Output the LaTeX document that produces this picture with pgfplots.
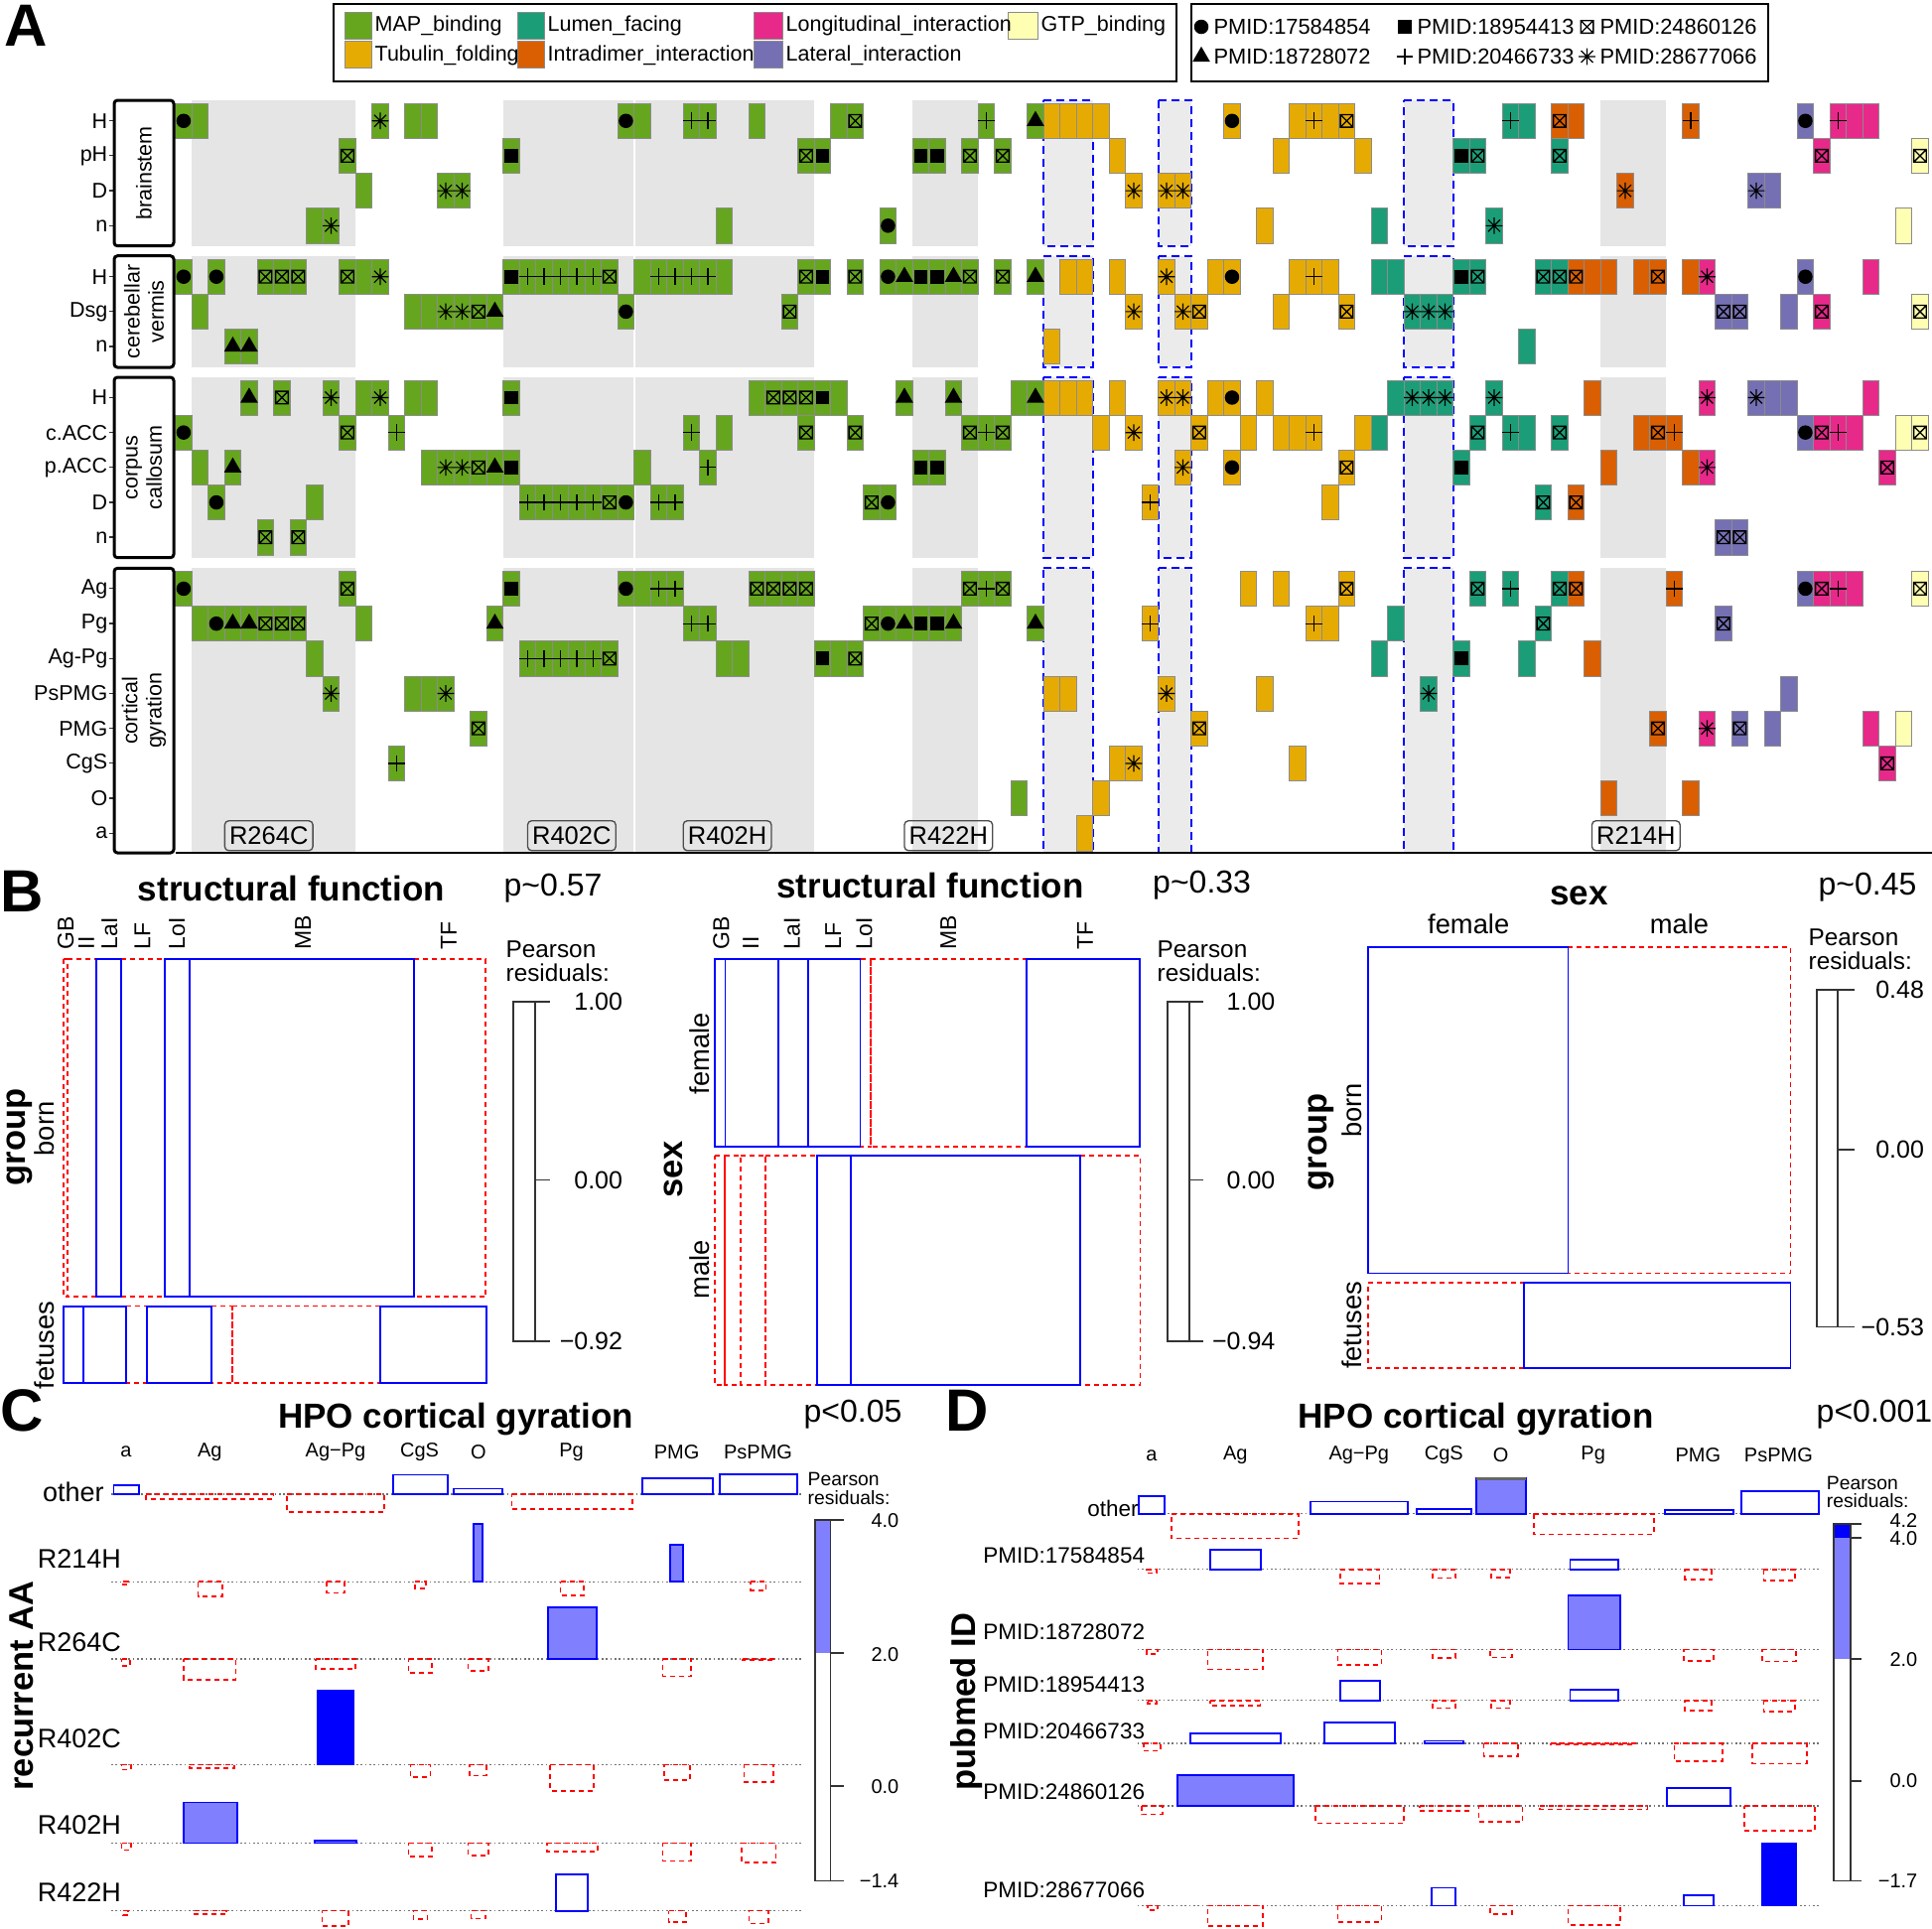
\documentclass[border=0pt]{standalone}
\usepackage{pgfplots}
\pgfplotsset{compat=1.18}
\usepackage{fontspec}
\setmainfont{Liberation Sans}
\definecolor{cMAP}{HTML}{66A61E}
\definecolor{cTUB}{HTML}{E6AB02}
\definecolor{cLUM}{HTML}{1B9E77}
\definecolor{cINT}{HTML}{D95F02}
\definecolor{cLON}{HTML}{E7298A}
\definecolor{cLAT}{HTML}{7570B3}
\definecolor{cGTP}{HTML}{FFFFB3}
\definecolor{gReg}{HTML}{E5E5E5}
\definecolor{gDash}{HTML}{EBEBEB}
\definecolor{shade}{HTML}{8080FF}
\newcommand{\fs}[1]{\fontsize{#1}{#1}\selectfont}
\pgfdeclareplotmark{tile}{\pgfpathrectangle{\pgfqpoint{-2.475pt}{-5.28pt}}{\pgfqpoint{4.95pt}{10.56pt}}\pgfusepathqfillstroke}
\pgfdeclareplotmark{boxx}{\pgfpathrectangle{\pgfqpoint{-1.9pt}{-1.9pt}}{\pgfqpoint{3.8pt}{3.8pt}}%
\pgfpathmoveto{\pgfqpoint{-1.9pt}{-1.9pt}}\pgfpathlineto{\pgfqpoint{1.9pt}{1.9pt}}%
\pgfpathmoveto{\pgfqpoint{-1.9pt}{1.9pt}}\pgfpathlineto{\pgfqpoint{1.9pt}{-1.9pt}}\pgfusepathqstroke}
\pgfdeclareplotmark{ast8}{\pgfpathmoveto{\pgfqpoint{-2.5pt}{0pt}}\pgfpathlineto{\pgfqpoint{2.5pt}{0pt}}%
\pgfpathmoveto{\pgfqpoint{0pt}{-2.5pt}}\pgfpathlineto{\pgfqpoint{0pt}{2.5pt}}%
\pgfpathmoveto{\pgfqpoint{-1.8pt}{-1.8pt}}\pgfpathlineto{\pgfqpoint{1.8pt}{1.8pt}}%
\pgfpathmoveto{\pgfqpoint{-1.8pt}{1.8pt}}\pgfpathlineto{\pgfqpoint{1.8pt}{-1.8pt}}\pgfusepathqstroke}
\pgfdeclareplotmark{plusR}{\pgfpathmoveto{\pgfqpoint{-2.5pt}{0pt}}\pgfpathlineto{\pgfqpoint{2.5pt}{0pt}}%
\pgfpathmoveto{\pgfqpoint{0pt}{-2.5pt}}\pgfpathlineto{\pgfqpoint{0pt}{2.5pt}}\pgfusepathqstroke}
\tikzset{
 tl/.style={only marks, mark=tile, mark options={fill=#1, draw=black!45, line width=0.2pt}},
 mk/.style={only marks, mark options={draw=black, fill=black, line width=0.35pt}},
 posst/.style={draw=blue, line width=0.55pt},
 negst/.style={draw=red, line width=0.5pt, dash pattern=on 1.5pt off 1.2pt},
 pfst/.style={draw=blue, fill=shade, line width=0.55pt},
 pFst/.style={draw=blue, fill=blue, line width=0.55pt},
 base/.style={draw=black!55, line width=0.4pt, dash pattern=on 0.5pt off 0.8pt},
 frm/.style={draw=black!80, line width=0.55pt}
}
\newcommand{\rect}[5]{\addplot[#1] coordinates {(#2,#4) (#3,#4) (#3,#5) (#2,#5)} -- cycle;}
\newcommand{\Pos}[4]{\rect{posst}{#1}{#2}{#3}{#4}}
\newcommand{\Neg}[4]{\rect{negst}{#1}{#2}{#3}{#4}}
\newcommand{\Pf}[4]{\rect{pfst}{#1}{#2}{#3}{#4}}
\newcommand{\PF}[4]{\rect{pFst}{#1}{#2}{#3}{#4}}
\newcommand{\facetbg}[2]{%
 \rect{fill=gReg,draw=none}{0.5}{10.5}{#1}{#2}%
 \rect{fill=gReg,draw=none}{19.5}{27.45}{#1}{#2}%
 \rect{fill=gReg,draw=none}{27.55}{38.5}{#1}{#2}%
 \rect{fill=gReg,draw=none}{44.5}{48.5}{#1}{#2}%
 \rect{fill=gReg,draw=none}{86.5}{90.5}{#1}{#2}%
 \rect{fill=gDash,draw=none}{52.5}{55.5}{#1}{#2}%
 \rect{fill=gDash,draw=none}{59.5}{61.5}{#1}{#2}%
 \rect{fill=gDash,draw=none}{74.5}{77.5}{#1}{#2}}
\newcommand{\facetdash}[2]{%
 \rect{draw=blue,line width=0.55pt,dash pattern=on 2.4pt off 1.5pt}{52.5}{55.5}{#1}{#2}%
 \rect{draw=blue,line width=0.55pt,dash pattern=on 2.4pt off 1.5pt}{59.5}{61.5}{#1}{#2}%
 \rect{draw=blue,line width=0.55pt,dash pattern=on 2.4pt off 1.5pt}{74.5}{77.5}{#1}{#2}}
\begin{document}
\begin{tikzpicture}
\useasboundingbox (0,0) rectangle (583.8pt,-582.9pt);
%================ PANEL A =================
\begin{axis}[at={(53.01pt,-30.3pt)}, anchor=north west, scale only axis,
 width=530.79pt, height=227.4pt, xmin=-0.5, xmax=106.73, ymin=-0.59, ymax=20.95,
 y dir=reverse, axis line style={draw=none}, xtick=\empty,
 ytick={0,1,2,3,4.46,5.46,6.46,7.92,8.92,9.92,10.92,11.92,13.39,14.39,15.39,16.39,17.39,18.39,19.39,20.39},
 yticklabels={H,pH,D,n,H,Dsg,n,H,c.ACC,p.ACC,D,n,Ag,Pg,Ag-Pg,PsPMG,PMG,CgS,O,a},
 major tick length=0pt, yticklabel style={font=\fs{6.45pt}, xshift=-17pt}, clip=false]
\facetbg{-0.59}{3.58}
\facetbg{3.87}{7.06}
\facetbg{7.34}{12.50}
\facetbg{12.80}{20.95}
% MAP binding
\addplot[tl=cMAP] coordinates {(0,0)(1,0)(12,0)(14,0)(15,0)(27,0)(28,0)(31,0)(32,0)(35,0)(40,0)(41,0)(49,0)(52,0)
(10,1)(20,1)(38,1)(39,1)(45,1)(46,1)(48,1)(50,1)
(11,2)(16,2)(17,2)
(8,3)(9,3)(33,3)(43,3)
(0,4.46)(2,4.46)(5,4.46)(6,4.46)(7,4.46)(10,4.46)(11,4.46)(12,4.46)(20,4.46)(21,4.46)(22,4.46)(23,4.46)(24,4.46)(25,4.46)(26,4.46)(28,4.46)(29,4.46)(30,4.46)(31,4.46)(32,4.46)(33,4.46)(38,4.46)(39,4.46)(41,4.46)(43,4.46)(44,4.46)(45,4.46)(46,4.46)(47,4.46)(48,4.46)(50,4.46)(52,4.46)
(1,5.46)(14,5.46)(15,5.46)(16,5.46)(17,5.46)(18,5.46)(19,5.46)(27,5.46)(37,5.46)
(3,6.46)(4,6.46)
(4,7.92)(6,7.92)(9,7.92)(11,7.92)(12,7.92)(14,7.92)(15,7.92)(20,7.92)(35,7.92)(36,7.92)(37,7.92)(38,7.92)(39,7.92)(40,7.92)(44,7.92)(47,7.92)(51,7.92)(52,7.92)
(0,8.92)(10,8.92)(13,8.92)(31,8.92)(33,8.92)(38,8.92)(41,8.92)(48,8.92)(49,8.92)(50,8.92)
(1,9.92)(3,9.92)(15,9.92)(16,9.92)(17,9.92)(18,9.92)(19,9.92)(20,9.92)(28,9.92)(32,9.92)(45,9.92)(46,9.92)
(2,10.92)(8,10.92)(21,10.92)(22,10.92)(23,10.92)(24,10.92)(25,10.92)(26,10.92)(27,10.92)(29,10.92)(30,10.92)(42,10.92)(43,10.92)
(5,11.92)(7,11.92)
(0,13.39)(10,13.39)(20,13.39)(27,13.39)(28,13.39)(29,13.39)(30,13.39)(35,13.39)(36,13.39)(37,13.39)(38,13.39)(48,13.39)(49,13.39)(50,13.39)
(1,14.39)(2,14.39)(3,14.39)(4,14.39)(5,14.39)(6,14.39)(7,14.39)(11,14.39)(19,14.39)(31,14.39)(32,14.39)(42,14.39)(43,14.39)(44,14.39)(45,14.39)(46,14.39)(47,14.39)(52,14.39)
(8,15.39)(21,15.39)(22,15.39)(23,15.39)(24,15.39)(25,15.39)(26,15.39)(33,15.39)(34,15.39)(39,15.39)(40,15.39)(41,15.39)
(9,16.39)(14,16.39)(15,16.39)(16,16.39)
(18,17.39)(13,18.39)(51,19.39)};
% Tubulin folding
\addplot[tl=cTUB] coordinates {(53,0)(54,0)(55,0)(56,0)(64,0)(68,0)(69,0)(70,0)(71,0)
(57,1)(67,1)(72,1)(58,2)(60,2)(61,2)(66,3)
(54,4.46)(55,4.46)(57,4.46)(60,4.46)(63,4.46)(64,4.46)(68,4.46)(69,4.46)(70,4.46)
(58,5.46)(61,5.46)(62,5.46)(67,5.46)(71,5.46)(53,6.46)
(53,7.92)(54,7.92)(55,7.92)(57,7.92)(60,7.92)(61,7.92)(63,7.92)(64,7.92)(66,7.92)
(56,8.92)(58,8.92)(62,8.92)(65,8.92)(67,8.92)(68,8.92)(69,8.92)(72,8.92)
(61,9.92)(64,9.92)(71,9.92)(59,10.92)(70,10.92)
(65,13.39)(67,13.39)(71,13.39)(59,14.39)(69,14.39)(70,14.39)
(53,16.39)(54,16.39)(60,16.39)(66,16.39)(62,17.39)
(57,18.39)(58,18.39)(68,18.39)(56,19.39)(55,20.39)};
% Lumen facing
\addplot[tl=cLUM] coordinates {(81,0)(82,0)(78,1)(79,1)(84,1)(73,3)(80,3)
(73,4.46)(74,4.46)(78,4.46)(79,4.46)(83,4.46)(84,4.46)
(75,5.46)(76,5.46)(77,5.46)(82,6.46)
(74,7.92)(75,7.92)(76,7.92)(77,7.92)(80,7.92)
(73,8.92)(79,8.92)(81,8.92)(82,8.92)(84,8.92)
(78,9.92)(83,10.92)(79,13.39)(81,13.39)(84,13.39)
(74,14.39)(83,14.39)(73,15.39)(78,15.39)(82,15.39)(76,16.39)};
% Intradimer
\addplot[tl=cINT] coordinates {(84,0)(85,0)(92,0)(88,2)
(85,4.46)(86,4.46)(87,4.46)(89,4.46)(90,4.46)(92,4.46)
(86,7.92)(89,8.92)(90,8.92)(91,8.92)(87,9.92)(92,9.92)(85,10.92)
(85,13.39)(91,13.39)(86,15.39)(90,17.39)(87,19.39)(92,19.39)};
% Longitudinal
\addplot[tl=cLON] coordinates {(101,0)(102,0)(103,0)(100,1)(93,4.46)(103,4.46)(100,5.46)(93,7.92)(103,7.92)(100,8.92)(101,8.92)(102,8.92)(93,9.92)(104,9.92)(100,13.39)(101,13.39)(102,13.39)(93,17.39)(103,17.39)(104,18.39)};
% Lateral
\addplot[tl=cLAT] coordinates {(99,0)(96,2)(97,2)(99,4.46)(94,5.46)(95,5.46)(98,5.46)(96,7.92)(97,7.92)(98,7.92)(99,8.92)(94,11.92)(95,11.92)(99,13.39)(94,14.39)(98,16.39)(95,17.39)(97,17.39)};
% GTP binding
\addplot[tl=cGTP] coordinates {(106,1)(105,3)(106,5.46)(105,8.92)(106,8.92)(106,13.39)(105,17.39)};
\facetdash{-0.59}{3.58}
\facetdash{3.87}{7.06}
\facetdash{7.34}{12.50}
\facetdash{12.80}{20.95}
% PMID markers
\addplot[mk, mark=*, mark size=2pt] coordinates {(0,0)(27,0)(64,0)(99,0)(43,3)(0,4.46)(2,4.46)(43,4.46)(64,4.46)(99,4.46)(27,5.46)(64,7.92)(0,8.92)(99,8.92)(64,9.92)(2,10.92)(27,10.92)(43,10.92)(0,13.39)(27,13.39)(99,13.39)(2,14.39)(43,14.39)};
\addplot[mk, mark=triangle*, mark size=2.7pt] coordinates {(52,0)(44,4.46)(47,4.46)(52,4.46)(19,5.46)(3,6.46)(4,6.46)(4,7.92)(44,7.92)(47,7.92)(52,7.92)(3,9.92)(19,9.92)(3,14.39)(4,14.39)(19,14.39)(44,14.39)(47,14.39)(52,14.39)};
\addplot[mk, mark=square*, mark size=1.9pt] coordinates {(20,1)(39,1)(45,1)(46,1)(78,1)(20,4.46)(39,4.46)(45,4.46)(46,4.46)(78,4.46)(20,7.92)(39,7.92)(20,9.92)(45,9.92)(46,9.92)(78,9.92)(20,13.39)(45,14.39)(46,14.39)(39,15.39)(78,15.39)};
\addplot[mk, mark=plusR] coordinates {(31,0)(32,0)(49,0)(69,0)(81,0)(92,0)(101,0)(21,4.46)(22,4.46)(23,4.46)(24,4.46)(25,4.46)(29,4.46)(30,4.46)(31,4.46)(32,4.46)(69,4.46)(13,8.92)(31,8.92)(49,8.92)(69,8.92)(81,8.92)(91,8.92)(101,8.92)(32,9.92)(21,10.92)(22,10.92)(23,10.92)(24,10.92)(25,10.92)(29,10.92)(30,10.92)(59,10.92)(29,13.39)(30,13.39)(49,13.39)(81,13.39)(91,13.39)(101,13.39)(31,14.39)(32,14.39)(59,14.39)(69,14.39)(21,15.39)(22,15.39)(23,15.39)(24,15.39)(25,15.39)(13,18.39)};
\addplot[mk, mark=boxx, mark options={fill=none}] coordinates {(41,0)(71,0)(84,0)(10,1)(38,1)(48,1)(50,1)(79,1)(84,1)(100,1)(106,1)(5,4.46)(6,4.46)(7,4.46)(10,4.46)(26,4.46)(38,4.46)(41,4.46)(48,4.46)(50,4.46)(79,4.46)(83,4.46)(84,4.46)(85,4.46)(90,4.46)(18,5.46)(37,5.46)(62,5.46)(71,5.46)(94,5.46)(95,5.46)(100,5.46)(106,5.46)(6,7.92)(36,7.92)(37,7.92)(38,7.92)(10,8.92)(38,8.92)(41,8.92)(48,8.92)(50,8.92)(62,8.92)(79,8.92)(84,8.92)(90,8.92)(100,8.92)(106,8.92)(18,9.92)(71,9.92)(104,9.92)(26,10.92)(42,10.92)(83,10.92)(85,10.92)(5,11.92)(7,11.92)(94,11.92)(95,11.92)(10,13.39)(35,13.39)(36,13.39)(37,13.39)(38,13.39)(48,13.39)(50,13.39)(71,13.39)(79,13.39)(84,13.39)(85,13.39)(100,13.39)(106,13.39)(5,14.39)(6,14.39)(7,14.39)(42,14.39)(83,14.39)(94,14.39)(26,15.39)(41,15.39)(18,17.39)(62,17.39)(90,17.39)(95,17.39)(104,18.39)};
\addplot[mk, mark=ast8] coordinates {(12,0)(16,2)(17,2)(58,2)(60,2)(61,2)(88,2)(96,2)(9,3)(80,3)(12,4.46)(60,4.46)(93,4.46)(16,5.46)(17,5.46)(58,5.46)(61,5.46)(75,5.46)(76,5.46)(77,5.46)(9,7.92)(12,7.92)(60,7.92)(61,7.92)(75,7.92)(76,7.92)(77,7.92)(80,7.92)(93,7.92)(96,7.92)(58,8.92)(16,9.92)(17,9.92)(61,9.92)(93,9.92)(9,16.39)(16,16.39)(60,16.39)(76,16.39)(93,17.39)(58,18.39)};
% region labels
\tikzset{rl/.style={draw=black!70, rounded corners=1.2pt, line width=0.4pt, inner xsep=1.4pt, inner ysep=0.8pt, minimum height=9pt, font=\fs{7.65pt}}}
\node[rl] at (axis cs:5.2,20.46) {R264C};
\node[rl] at (axis cs:23.69,20.46) {R402C};
\node[rl] at (axis cs:33.19,20.46) {R402H};
\node[rl] at (axis cs:46.69,20.46) {R422H};
\node[rl] at (axis cs:88.66,20.46) {R214H};
\end{axis}
%================ OVERLAY (px coordinates) =================
\begin{axis}[at={(0pt,0pt)}, anchor=north west, scale only axis, width=583.8pt, height=582.9pt,
 xmin=0, xmax=1946, ymin=0, ymax=1943, y dir=reverse, hide axis, clip=false]
% panel A frame items
\draw[line width=0.45pt] (axis cs:176.7,859) -- (axis cs:1946,859);
\pgfplotsinvokeforeach{121.65,156.8,192,227.2,278.6,313.8,349,400.3,435.5,470.7,505.9,541.1,592.8,628,663.2,698.4,733.6,768.8,804,839.2}{\draw[line width=0.4pt,black!80] (axis cs:109.5,#1) -- (axis cs:115,#1);}
\draw[line width=0.9pt, rounded corners=1pt, fill=white] (axis cs:115,101) rectangle (axis cs:175,247.7);
\draw[line width=0.9pt, rounded corners=1pt, fill=white] (axis cs:115,257.7) rectangle (axis cs:175,370);
\draw[line width=0.9pt, rounded corners=1pt, fill=white] (axis cs:115,380) rectangle (axis cs:175,561.7);
\draw[line width=0.9pt, rounded corners=1pt, fill=white] (axis cs:115,572.3) rectangle (axis cs:175,859);
\tikzset{st/.style={rotate=90, align=center, font=\fontsize{6.45pt}{7.3pt}\selectfont}}
\node[st] at (axis cs:145,174.4) {brainstem};
\node[st] at (axis cs:145,313.9) {cerebellar\\vermis};
\node[st] at (axis cs:145,470.9) {corpus\\callosum};
\node[st] at (axis cs:145,715.7) {cortical\\gyration};
% panel letters
\node[font=\fs{18pt}\bfseries] at (axis cs:26,26) {A};
\node[font=\fs{18pt}\bfseries] at (axis cs:22.5,898) {B};
\node[font=\fs{18pt}\bfseries] at (axis cs:22.5,1421) {C};
\node[font=\fs{18pt}\bfseries] at (axis cs:974,1421) {D};
% legend A : colours
\draw[line width=0.5pt] (axis cs:336.3,3.7) rectangle (axis cs:1185,82);
\draw[line width=0.5pt] (axis cs:1200,3.7) rectangle (axis cs:1781,82);
\rect{fill=cMAP,draw=black!45,line width=0.2pt}{347.5}{374.8}{12.4}{39.7}
\rect{fill=cTUB,draw=black!45,line width=0.2pt}{347.5}{374.8}{40.9}{68.2}
\rect{fill=cLUM,draw=black!45,line width=0.2pt}{521}{548.5}{12.4}{39.7}
\rect{fill=cINT,draw=black!45,line width=0.2pt}{521}{548.5}{40.9}{68.2}
\rect{fill=cLON,draw=black!45,line width=0.2pt}{759.5}{788}{12.4}{39.7}
\rect{fill=cLAT,draw=black!45,line width=0.2pt}{759.5}{788}{40.9}{68.2}
\rect{fill=cGTP,draw=black!45,line width=0.2pt}{1015}{1045}{12.4}{39.7}
\tikzset{lg/.style={anchor=west, inner sep=0pt, font=\fs{6.45pt}}, lg2/.style={anchor=west, inner sep=0pt, font=\fs{6.55pt}}}
\node[lg] at (axis cs:377,26) {MAP\_binding};
\node[lg] at (axis cs:377,56) {Tubulin\_folding};
\node[lg] at (axis cs:551,26) {Lumen\_facing};
\node[lg] at (axis cs:551,56) {Intradimer\_interaction};
\node[lg] at (axis cs:791,26) {Longitudinal\_interaction};
\node[lg] at (axis cs:791,56) {Lateral\_interaction};
\node[lg] at (axis cs:1048,26) {GTP\_binding};
% legend A : shapes
\addplot[mk, mark=*, mark size=2pt] coordinates {(1210,27)};
\addplot[mk, mark=triangle*, mark size=2.7pt] coordinates {(1210,57)};
\addplot[mk, mark=square*, mark size=1.9pt] coordinates {(1415,27)};
\addplot[mk, mark=plusR] coordinates {(1415,57)};
\addplot[mk, mark=boxx, mark options={fill=none}] coordinates {(1598.5,27)};
\addplot[mk, mark=ast8] coordinates {(1598.5,57)};
\node[lg2] at (axis cs:1222,27) {PMID:17584854};
\node[lg2] at (axis cs:1222,57) {PMID:18728072};
\node[lg2] at (axis cs:1427,27) {PMID:18954413};
\node[lg2] at (axis cs:1427,57) {PMID:20466733};
\node[lg2] at (axis cs:1611,27) {PMID:24860126};
\node[lg2] at (axis cs:1611,57) {PMID:28677066};
%================ PANEL B =================
\tikzset{ttl/.style={font=\fs{10.5pt}\bfseries}, pv/.style={font=\fs{9.6pt}},
 cl/.style={rotate=90, anchor=west, font=\fs{6.9pt}, inner sep=0.5pt},
 rlab/.style={rotate=90, font=\fs{8.2pt}}, vlab/.style={rotate=90, font=\fs{10.35pt}\bfseries, inner sep=0pt},
 pr/.style={anchor=west, font=\fs{7.3pt}, inner sep=0pt}, tk/.style={anchor=east, font=\fs{7.5pt}, inner sep=0pt}}
% B left
\node[ttl] at (axis cs:293.5,895.4) {structural function};
\node[pv] at (axis cs:557,895) {p\textasciitilde 0.57};
\node[cl] at (axis cs:66.3,958.6) {GB};
\node[cl] at (axis cs:87,958.6) {II};
\node[cl] at (axis cs:110.3,958.6) {LaI};
\node[cl] at (axis cs:143.4,958.6) {LF};
\node[cl] at (axis cs:178.3,958.6) {LoI};
\node[cl] at (axis cs:305.1,958.6) {MB};
\node[cl] at (axis cs:451.9,958.6) {TF};
\node[vlab] at (axis cs:19.5,1145.5) {group};
\node[rlab] at (axis cs:45,1137) {born};
\node[rlab] at (axis cs:45,1355) {fetuses};
\Neg{63.8}{68}{965.7}{1306.1}
\Neg{68}{97}{965.7}{1306.1}
\Neg{121.9}{165.8}{965.7}{1306.1}
\Neg{417.1}{489.2}{965.7}{1306.1}
\Pos{97}{121.9}{965.7}{1306.1}
\Pos{165.8}{190.7}{965.7}{1306.1}
\Pos{190.7}{417.1}{965.7}{1306.1}
\Neg{126.9}{148.4}{1315.6}{1393.3}
\Neg{213.1}{233.8}{1315.6}{1393.3}
\Neg{233.8}{383.1}{1315.6}{1393.3}
\Pos{63.8}{83.7}{1315.6}{1393.3}
\Pos{83.7}{126.9}{1315.6}{1393.3}
\Pos{148.4}{213.1}{1315.6}{1393.3}
\Pos{383.1}{490}{1315.6}{1393.3}
\node[pr] at (axis cs:509,956) {Pearson};
\node[pr] at (axis cs:509,980) {residuals:};
\rect{frm}{516.6}{539}{1008.6}{1350.7}
\draw[frm] (axis cs:539,1008.6) -- (axis cs:553.9,1008.6);
\draw[frm] (axis cs:539,1188.5) -- (axis cs:553.9,1188.5);
\draw[frm] (axis cs:539,1350.7) -- (axis cs:553.9,1350.7);
\node[tk] at (axis cs:627.7,1008.6) {1.00};
\node[tk] at (axis cs:627.7,1188.5) {0.00};
\node[tk] at (axis cs:627.7,1350.7) {−0.92};
% B middle
\node[ttl] at (axis cs:937,892) {structural function};
\node[pv] at (axis cs:1210.6,892) {p\textasciitilde 0.33};
\node[cl] at (axis cs:726.4,958.6) {GB};
\node[cl] at (axis cs:756.2,958.6) {II};
\node[cl] at (axis cs:797.7,958.6) {LaI};
\node[cl] at (axis cs:839.1,958.6) {LF};
\node[cl] at (axis cs:870.6,958.6) {LoI};
\node[cl] at (axis cs:955.2,958.6) {MB};
\node[cl] at (axis cs:1092.9,958.6) {TF};
\node[vlab] at (axis cs:678,1177.6) {sex};
\node[rlab] at (axis cs:705,1061) {female};
\node[rlab] at (axis cs:705,1279) {male};
\Neg{866.5}{877.3}{966.3}{1155}
\Neg{877.3}{1034}{966.3}{1155}
\Pos{719.7}{730.5}{966.3}{1155}
\Pos{730.5}{783.6}{966.3}{1155}
\Pos{783.6}{814.3}{966.3}{1155}
\Pos{814.3}{866.5}{966.3}{1155}
\Pos{1034}{1148.4}{966.3}{1155}
\Neg{719.7}{729.7}{1164.1}{1394.7}
\Neg{729.7}{746.3}{1164.1}{1394.7}
\Neg{746.3}{771.1}{1164.1}{1394.7}
\Neg{771.1}{822.6}{1164.1}{1394.7}
\Neg{1087.9}{1148.4}{1164.1}{1394.7}
\Pos{822.6}{856.6}{1164.1}{1394.7}
\Pos{856.6}{1087.9}{1164.1}{1394.7}
\node[pr] at (axis cs:1165,956) {Pearson};
\node[pr] at (axis cs:1165,980) {residuals:};
\rect{frm}{1175.8}{1198.2}{1008.6}{1350.7}
\draw[frm] (axis cs:1198.2,1008.6) -- (axis cs:1212.3,1008.6);
\draw[frm] (axis cs:1198.2,1188.5) -- (axis cs:1212.3,1188.5);
\draw[frm] (axis cs:1198.2,1350.7) -- (axis cs:1212.3,1350.7);
\node[tk] at (axis cs:1285,1008.6) {1.00};
\node[tk] at (axis cs:1285,1188.5) {0.00};
\node[tk] at (axis cs:1285,1350.7) {−0.94};
% B right
\node[ttl] at (axis cs:1590.5,902) {sex};
\node[pv] at (axis cs:1881,893.7) {p\textasciitilde 0.45};
\node[font=\fs{8.2pt}] at (axis cs:1479.2,930.9) {female};
\node[font=\fs{8.2pt}] at (axis cs:1691.4,930.9) {male};
\node[vlab] at (axis cs:1331,1150.6) {group};
\node[rlab] at (axis cs:1361.8,1118.5) {born};
\node[rlab] at (axis cs:1361.8,1334.8) {fetuses};
\Neg{1579.4}{1803.5}{953.8}{1282.4}
\Pos{1378.3}{1579.4}{953.8}{1282.4}
\Neg{1378.3}{1534.9}{1291.9}{1378.1}
\Pos{1534.9}{1803.5}{1291.9}{1378.1}
\node[pr] at (axis cs:1821,944.4) {Pearson};
\node[pr] at (axis cs:1821,968) {residuals:};
\rect{frm}{1830.3}{1851.3}{996.8}{1336.5}
\draw[frm] (axis cs:1851.3,996.8) -- (axis cs:1867.8,996.8);
\draw[frm] (axis cs:1851.3,1158) -- (axis cs:1867.8,1158);
\draw[frm] (axis cs:1851.3,1336.5) -- (axis cs:1867.8,1336.5);
\node[tk] at (axis cs:1938.6,996.8) {0.48};
\node[tk] at (axis cs:1938.6,1158) {0.00};
\node[tk] at (axis cs:1938.6,1336.5) {−0.53};
%================ PANEL C =================
\tikzset{hc/.style={font=\fs{6pt}}, rC/.style={anchor=east, font=\fs{8.1pt}, inner sep=0pt},
 rD/.style={anchor=east, font=\fs{6.75pt}, inner sep=0pt}, pr2/.style={anchor=west, font=\fs{5.8pt}, inner sep=0pt},
 tk2/.style={anchor=east, font=\fs{6pt}, inner sep=0pt}}
\node[ttl] at (axis cs:459,1429) {HPO cortical gyration};
\node[pv] at (axis cs:859,1425) {p<0.05};
\node[hc] at (axis cs:127,1462.3) {a};
\node[hc] at (axis cs:211.3,1462.3) {Ag};
\node[hc] at (axis cs:338,1462.3) {Ag−Pg};
\node[hc] at (axis cs:422.6,1462.3) {CgS};
\node[hc] at (axis cs:482,1462.3) {O};
\node[hc] at (axis cs:575.6,1462.3) {Pg};
\node[hc] at (axis cs:681.6,1462.3) {PMG};
\node[hc] at (axis cs:763.6,1462.3) {PsPMG};
\node[rC] at (axis cs:105.3,1502.8) {other};
\node[rC] at (axis cs:122.5,1569.7) {R214H};
\node[rC] at (axis cs:122.5,1653.8) {R264C};
\node[rC] at (axis cs:122.5,1750.8) {R402C};
\node[rC] at (axis cs:122.5,1838) {R402H};
\node[rC] at (axis cs:122.5,1906.2) {R422H};
\node[vlab] at (axis cs:22,1698) {recurrent AA};
\pgfplotsinvokeforeach{1505,1593.2,1671,1777.4,1856.4,1924.6}{\addplot[base] coordinates {(112,#1) (807,#1)};}
% other
\Pos{114.5}{139.6}{1495.9}{1505}
\Neg{147}{275.6}{1505}{1510}
\Neg{289}{387}{1505}{1523}
\Pos{395.6}{451.3}{1485.5}{1505}
\Pos{456.8}{506.4}{1499.4}{1505}
\Neg{515.6}{636.9}{1505}{1520}
\Pos{646.7}{717.7}{1489}{1505}
\Pos{725}{803.4}{1485.2}{1505}
% R214H
\Neg{124.3}{129.2}{1593.2}{1596}
\Neg{199.6}{224.1}{1593.2}{1607.8}
\Neg{328.8}{347.2}{1593.2}{1604.3}
\Neg{418.2}{428.7}{1593.2}{1600}
\Pf{477}{486.2}{1535}{1593.2}
\Neg{564.6}{587.9}{1593.2}{1607}
\Pf{675.4}{688.3}{1555.8}{1593.2}
\Neg{756.3}{771.6}{1593.2}{1602}
% R264C
\Neg{122.5}{131}{1671}{1677.7}
\Neg{185}{237.6}{1671}{1692}
\Neg{317.8}{358.2}{1671}{1681}
\Neg{411.5}{434.8}{1671}{1685}
\Neg{471.5}{491.7}{1671}{1683}
\Pf{551.7}{600.7}{1618.8}{1671}
\Neg{667.5}{696.3}{1671}{1688.4}
\Neg{748.3}{780.8}{1671}{1672}
% R402C
\Neg{122.5}{131.7}{1777.4}{1782.6}
\Neg{191}{235.8}{1777.4}{1781}
\PF{319.7}{356.4}{1703}{1777.4}
\Neg{413.4}{433.6}{1777.4}{1790}
\Neg{472.7}{490}{1777.4}{1788.5}
\Neg{554.2}{598.3}{1777.4}{1803.7}
\Neg{668.7}{695}{1777.4}{1793}
\Neg{749.5}{779}{1777.4}{1794.7}
% R402H
\Neg{122.5}{131.7}{1856.4}{1863.3}
\Pf{185}{239.4}{1815.5}{1856.4}
\Pf{317.2}{358.8}{1853.6}{1856.4}
\Neg{411.5}{434.8}{1856.4}{1870.2}
\Neg{471.5}{491.7}{1856.4}{1869.2}
\Neg{551}{602}{1856.4}{1865}
\Neg{667.5}{696.3}{1856.4}{1874.4}
\Neg{747}{781.4}{1856.4}{1876.1}
% R422H
\Neg{124.3}{129.2}{1924.6}{1928.7}
\Neg{196}{227.8}{1924.6}{1928}
\Neg{324.5}{350.9}{1924.6}{1940}
\Neg{416.4}{430.5}{1924.6}{1933.2}
\Neg{474.6}{488.7}{1924.6}{1932.5}
\Pos{560.3}{592.2}{1888.2}{1924.6}
\Neg{673.6}{690.7}{1924.6}{1936}
\Neg{754.4}{774}{1924.6}{1937.4}
% legend C
\node[pr2] at (axis cs:813,1490) {Pearson};
\node[pr2] at (axis cs:813,1509) {residuals:};
\rect{fill=shade,draw=none}{820.6}{836.5}{1530.9}{1664.9}
\rect{frm}{820.6}{836.5}{1530.9}{1894.5}
\pgfplotsinvokeforeach{1530.9,1664.9,1798.9,1894.5}{\draw[frm] (axis cs:836.5,#1) -- (axis cs:850,#1);}
\node[tk2] at (axis cs:906,1531.6) {4.0};
\node[tk2] at (axis cs:906,1666.6) {2.0};
\node[tk2] at (axis cs:906,1800) {0.0};
\node[tk2] at (axis cs:906,1895) {−1.4};
%================ PANEL D =================
\node[ttl] at (axis cs:1486.6,1429.4) {HPO cortical gyration};
\node[pv] at (axis cs:1888,1425) {p<0.001};
\node[hc] at (axis cs:1160,1465.8) {a};
\node[hc] at (axis cs:1244.3,1465.8) {Ag};
\node[hc] at (axis cs:1368.8,1465.8) {Ag−Pg};
\node[hc] at (axis cs:1454.3,1465.8) {CgS};
\node[hc] at (axis cs:1511.6,1465.8) {O};
\node[hc] at (axis cs:1604.7,1465.8) {Pg};
\node[hc] at (axis cs:1710.3,1465.8) {PMG};
\node[hc] at (axis cs:1791.4,1465.8) {PsPMG};
\node[rD] at (axis cs:1147.4,1519.5) {other};
\node[rD] at (axis cs:1153.7,1566.9) {PMID:17584854};
\node[rD] at (axis cs:1153.7,1644) {PMID:18728072};
\node[rD] at (axis cs:1153.7,1696.7) {PMID:18954413};
\node[rD] at (axis cs:1153.7,1743.8) {PMID:20466733};
\node[rD] at (axis cs:1153.7,1804.4) {PMID:24860126};
\node[rD] at (axis cs:1153.7,1903.8) {PMID:28677066};
\node[vlab] at (axis cs:974,1714) {pubmed ID};
\pgfplotsinvokeforeach{1524.7,1580.7,1661.4,1712.7,1756,1819,1919.4}{\addplot[base] coordinates {(1145.5,#1) (1834,#1)};}
% other
\Pos{1147.4}{1172.6}{1506.6}{1524.7}
\Neg{1180.1}{1307.8}{1524.7}{1549.6}
\Pos{1320.4}{1417.9}{1512.5}{1524.7}
\Pos{1426.7}{1482}{1520.2}{1524.7}
\Pf{1487}{1536.7}{1489.3}{1524.7}
\addplot[draw=black!60, line width=0.8pt] coordinates {(1487,1489.3) (1536.7,1489.3)};
\Neg{1544.9}{1666.3}{1524.7}{1545.4}
\Pos{1677}{1746.2}{1521.2}{1524.7}
\Pos{1753.7}{1831.7}{1501.8}{1524.7}
% 17584854
\Neg{1155}{1165}{1580.7}{1584.6}
\Pos{1219}{1270}{1561}{1580.7}
\Neg{1350}{1389.6}{1580.7}{1595}
\Neg{1443}{1466}{1580.7}{1589.4}
\Neg{1502}{1521}{1580.7}{1588.7}
\Pos{1581.4}{1629.8}{1570.7}{1580.7}
\Neg{1697}{1724.2}{1580.7}{1590.8}
\Neg{1776.4}{1807.8}{1580.7}{1592.2}
% 18728072
\Neg{1155}{1166.3}{1661.4}{1666}
\Neg{1216.6}{1272}{1661.4}{1681.5}
\Neg{1347.4}{1391.4}{1661.4}{1677}
\Neg{1443}{1466.3}{1661.4}{1670}
\Neg{1500.9}{1523}{1661.4}{1669.4}
\Pf{1579.5}{1631.7}{1607}{1661.4}
\Neg{1695.8}{1726}{1661.4}{1672.9}
\Neg{1775}{1809}{1661.4}{1673.5}
% 18954413
\Neg{1156}{1165}{1712.7}{1716}
\Neg{1219}{1269.4}{1712.7}{1717.9}
\Pos{1350}{1389.6}{1693.3}{1712.7}
\Neg{1443}{1466.3}{1712.7}{1720.3}
\Neg{1502}{1521}{1712.7}{1720.3}
\Pos{1581.4}{1629.8}{1702.3}{1712.7}
\Neg{1697}{1724.2}{1712.7}{1722.7}
\Neg{1776.4}{1807.8}{1712.7}{1723.7}
% 20466733
\Neg{1151.8}{1168.8}{1756}{1763.6}
\Pos{1199}{1290.2}{1745.6}{1756}
\Pos{1334.2}{1404.7}{1734.8}{1756}
\Pos{1434.8}{1473.8}{1753.5}{1756}
\Neg{1494.6}{1529.2}{1756}{1768.8}
\Neg{1561.9}{1647.4}{1756}{1756.7}
\Neg{1686.4}{1734.8}{1756}{1774}
\Neg{1765}{1819.7}{1756}{1776.4}
% 24860126
\Neg{1150}{1170.7}{1819}{1827.6}
\Pf{1186.4}{1302.8}{1787.8}{1819}
\Neg{1324.8}{1414}{1819}{1836.3}
\Neg{1429.8}{1479.5}{1819}{1824.2}
\Neg{1489.6}{1533.6}{1819}{1835.2}
\Neg{1551.2}{1659.4}{1819}{1822.4}
\Pos{1678.9}{1743}{1800.6}{1819}
\Neg{1756.9}{1828}{1819}{1843.9}
% 28677066
\Neg{1156.2}{1166.3}{1919.4}{1924}
\Neg{1216.6}{1272}{1919.4}{1940.2}
\Neg{1347.4}{1391.4}{1919.4}{1936}
\Pos{1442.4}{1466.3}{1901.4}{1919.4}
\Neg{1500.9}{1523}{1919.4}{1928}
\Neg{1579.5}{1631.7}{1919.4}{1939.1}
\Pos{1695.8}{1726}{1909}{1919.4}
\PF{1775}{1809}{1856.4}{1919.4}
% legend D
\node[pr2] at (axis cs:1839.2,1493.5) {Pearson};
\node[pr2] at (axis cs:1839.2,1511.5) {residuals:};
\rect{fill=blue,draw=none}{1846.8}{1863.8}{1535}{1548.9}
\rect{fill=shade,draw=none}{1846.8}{1863.8}{1548.9}{1671.1}
\rect{frm}{1846.8}{1863.8}{1535}{1894.5}
\pgfplotsinvokeforeach{1535,1548.9,1671.1,1793.7,1894.5}{\draw[frm] (axis cs:1863.8,#1) -- (axis cs:1875,#1);}
\node[tk2] at (axis cs:1932,1531) {4.2};
\node[tk2] at (axis cs:1932,1550) {4.0};
\node[tk2] at (axis cs:1932,1671.1) {2.0};
\node[tk2] at (axis cs:1932,1793.7) {0.0};
\node[tk2] at (axis cs:1932,1894.5) {−1.7};
\end{axis}
\end{tikzpicture}
\end{document}
